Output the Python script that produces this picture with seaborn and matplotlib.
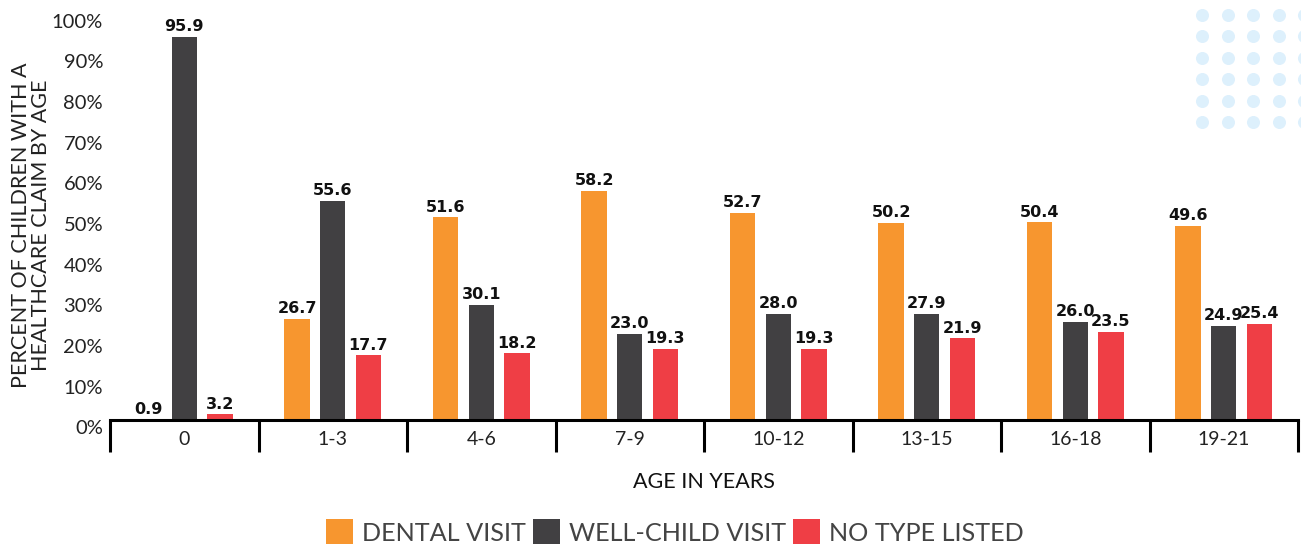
import numpy as np
import pandas as pd
import matplotlib
matplotlib.use("Agg")
import matplotlib.pyplot as plt
from matplotlib.transforms import blended_transform_factory
import seaborn as sns

# ---- data ----
ages = ["0", "1-3", "4-6", "7-9", "10-12", "13-15", "16-18", "19-21"]
visit_types = ["DENTAL VISIT", "WELL-CHILD VISIT", "NO TYPE LISTED"]
dental = [0.9, 26.7, 51.6, 58.2, 52.7, 50.2, 50.4, 49.6]
well_child = [95.9, 55.6, 30.1, 23.0, 28.0, 27.9, 26.0, 24.9]
no_type = [3.2, 17.7, 18.2, 19.3, 19.3, 21.9, 23.5, 25.4]
y_ticks = [0, 10, 20, 30, 40, 50, 60, 70, 80, 90, 100]
colors = ["#F7962F", "#414042", "#EF3E45"]

sns.set_style("white")
plt.rcParams["font.family"] = ["Lato", "DejaVu Sans"]
TXT_W = "normal"

df = pd.DataFrame({
    "age": ages * 3,
    "type": [visit_types[0]] * len(ages) + [visit_types[1]] * len(ages) + [visit_types[2]] * len(ages),
    "value": dental + well_child + no_type,
})

W, H = 1301, 544
fig = plt.figure(figsize=(W / 100, H / 100), dpi=100)

# decorative dot grid (top-right)
deco = fig.add_axes([0, 0, 1, 1], zorder=0)
deco.set_xlim(0, W)
deco.set_ylim(H, 0)
deco.axis("off")
gx, gy = np.meshgrid(np.arange(5) * 25.5 + 1202, np.arange(6) * 21.5 + 14.7)
deco.scatter(gx.ravel(), gy.ravel(), s=88, color="#DDF0FC", linewidths=0)

# main axes
ax_left, ax_right = 110, 1298
ax_bottom, ax_top = 419.5, 10
ax = fig.add_axes([ax_left / W, 1 - ax_bottom / H, (ax_right - ax_left) / W, (ax_bottom - ax_top) / H], zorder=2)
ax.set_facecolor("none")

sns.barplot(data=df, x="age", y="value", hue="type", order=ages, hue_order=visit_types,
            palette=colors, saturation=1, width=0.72, gap=0.29, linewidth=0, ax=ax)

# y ticks
ax.set_yticks(y_ticks)
ax.set_yticklabels([f"{t}%" for t in y_ticks])
ax.tick_params(axis="y", length=0, pad=5, labelsize=14.5, labelcolor="#222222")
for lab in ax.get_yticklabels():
    lab.set_fontweight(TXT_W)

px_per_unit = 4.07
zero_px = 427.5
ylo = (zero_px - ax_bottom) / px_per_unit
ax.set_ylim(ylo, (zero_px - ax_top) / px_per_unit)
ax.set_xlim(-0.5, len(ages) - 0.5)

# 0% label (sits just below the visible range)
trans_y = blended_transform_factory(ax.transAxes, ax.transData)
ax.text(-7 / (ax_right - ax_left), 0, "0%", transform=trans_y, ha="right", va="center_baseline",
        fontsize=14.5, fontweight=TXT_W, color="#222222", clip_on=False)

# value labels (kept above the axis line for very small values)
for cont, vals in zip(ax.containers, [dental, well_child, no_type]):
    for rect, v in zip(cont.patches, vals):
        xc = rect.get_x() + rect.get_width() / 2
        ax.annotate(f"{v:.1f}", (xc, max(v, ylo)), xytext=(0, 2), textcoords="offset points",
                    ha="center", va="bottom", fontsize=11.5, fontweight="bold",
                    family="DejaVu Sans", color="#111111", annotation_clip=False)

# x ticks
ax.tick_params(axis="x", length=0, pad=8, labelsize=14, labelcolor="#222222")
for lab in ax.get_xticklabels():
    lab.set_fontweight(TXT_W)
ax.set_xlabel("")
ax.set_ylabel("")

# spines
for s in ["top", "right", "left"]:
    ax.spines[s].set_visible(False)
ax.spines["bottom"].set_color("black")
ax.spines["bottom"].set_linewidth(2.2)

trans_x = blended_transform_factory(ax.transData, ax.transAxes)
sep_len = 32 / (ax_bottom - ax_top)
for b in np.arange(len(ages) + 1) - 0.5:
    ax.plot([b, b], [0, -sep_len], transform=trans_x, color="black", lw=2.2,
            clip_on=False, solid_capstyle="butt")

# axis titles
fig.text(704 / W, 1 - 482 / H, "AGE IN YEARS", ha="center", va="center",
         fontsize=15.5, fontweight=TXT_W, color="#111111")
fig.text(31 / W, 1 - 225 / H, "PERCENT OF CHILDREN WITH A\nHEALTHCARE CLAIM BY AGE",
         rotation=90, ha="center", va="center", fontsize=15.5, fontweight=TXT_W,
         color="#222222", linespacing=1.0, multialignment="center")

# legend
handles, labels = ax.get_legend_handles_labels()
if ax.get_legend() is not None:
    ax.get_legend().remove()
leg = fig.legend(handles, labels, loc="center", bbox_to_anchor=(675 / W, 1 - 532 / H),
                 ncol=3, frameon=False, fontsize=18.2, handlelength=1.05, handleheight=1.2,
                 handletextpad=0.35, columnspacing=0.3, borderpad=0, borderaxespad=0)
for t in leg.get_texts():
    t.set_fontweight(TXT_W)
    t.set_color("#444444")

fig.savefig("out.png", dpi=100)
